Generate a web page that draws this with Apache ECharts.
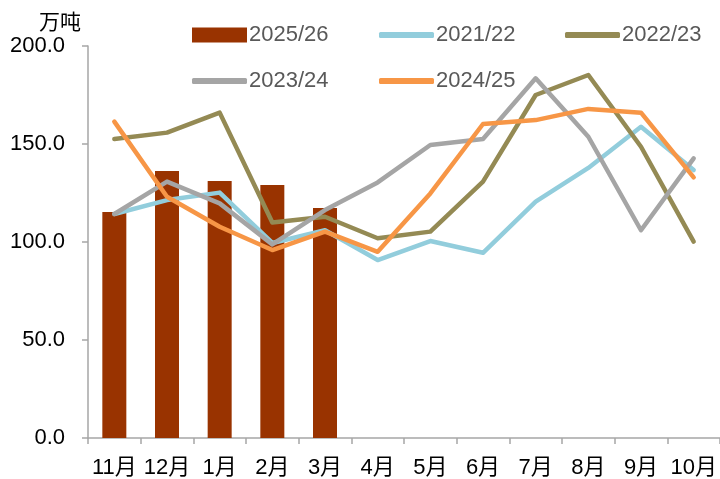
<!DOCTYPE html>
<html>
<head>
<meta charset="utf-8">
<script src="https://cdn.jsdelivr.net/npm/echarts@6/dist/echarts.min.js"></script>
<style>
html,body{margin:0;padding:0;background:#fff}
#chart{width:720px;height:479px}
</style>
</head>
<body>
<div id="chart"></div>
<script>
let months = ['11月', '12月', '1月', '2月', '3月', '4月', '5月', '6月', '7月', '8月', '9月', '10月'];
let s2526 = [115.3, 136.2, 131.1, 129.1, 117.3];
let s2122 = [114.3, 121.4, 125.2, 99.5, 106, 90.8, 100.5, 94.5, 120.6, 137.8, 158.8, 136.7];
let s2223 = [152.6, 155.8, 166, 109.9, 112.9, 101.9, 105.3, 130.8, 175, 185.2, 148.6, 100.2];
let s2324 = [114.3, 130.8, 119.7, 98.8, 116.3, 130.4, 149.5, 152.6, 183.5, 153.7, 106, 142.7];
let s2425 = [161.4, 123.1, 107.8, 95.9, 105.3, 95, 124.8, 160.2, 162.2, 167.9, 166, 133];

let fontFam = '"Liberation Sans","Noto Sans CJK SC",sans-serif';

function lineSeries(name, data, color) {
  return {
    name: name,
    type: 'line',
    data: data,
    symbol: 'none',
    lineStyle: { width: 4.5, color: color, cap: 'round', join: 'round' },
    itemStyle: { color: color }
  };
}

function leg(name, left, top, isBar) {
  return {
    data: [name],
    left: left,
    top: top,
    itemWidth: 55,
    itemHeight: isBar ? 15 : 6,
    itemGap: 4,
    icon: isBar ? 'rect' : 'roundRect',
    textStyle: { fontSize: 22, color: '#595959', fontFamily: fontFam, padding: [0, 0, 0, -3] }
  };
}

let chart = echarts.init(document.getElementById('chart'));
chart.setOption({
  animation: false,
  backgroundColor: '#fff',
  title: {
    text: '万吨',
    left: 34,
    top: 6,
    textStyle: { fontSize: 21, fontWeight: 'normal', color: '#000', fontFamily: '"Noto Sans CJK SC",sans-serif' }
  },
  legend: [
    leg('2025/26', 187, 19, true),
    leg('2021/22', 374, 19, false),
    leg('2022/23', 560, 19, false),
    leg('2023/24', 187, 65, false),
    leg('2024/25', 374, 65, false)
  ],
  grid: { left: 88, right: 0, top: 46, bottom: 41, containLabel: false },
  xAxis: {
    type: 'category',
    data: months,
    axisLine: { lineStyle: { color: '#A6A6A6', width: 1.5 } },
    axisTick: { show: true, length: 6, lineStyle: { color: '#A6A6A6', width: 1.5 } },
    axisLabel: { fontSize: 22, color: '#000', margin: 19, fontFamily: fontFam, interval: 0 }
  },
  yAxis: {
    type: 'value',
    min: 0,
    max: 200,
    interval: 50,
    splitLine: { show: false },
    axisLine: { show: true, lineStyle: { color: '#A6A6A6', width: 1.5 } },
    axisTick: { show: true, length: 6, lineStyle: { color: '#A6A6A6', width: 1.5 } },
    axisLabel: {
      fontSize: 22, color: '#000', margin: 23, fontFamily: fontFam,
      formatter: function (v) { return v.toFixed(1); }
    }
  },
  series: [
    {
      name: '2025/26',
      type: 'bar',
      data: s2526,
      barWidth: 24,
      itemStyle: { color: '#993300' }
    },
    lineSeries('2021/22', s2122, '#92CDDC'),
    lineSeries('2022/23', s2223, '#948A54'),
    lineSeries('2023/24', s2324, '#A5A5A5'),
    lineSeries('2024/25', s2425, '#F79646')
  ]
});
</script>
</body>
</html>
